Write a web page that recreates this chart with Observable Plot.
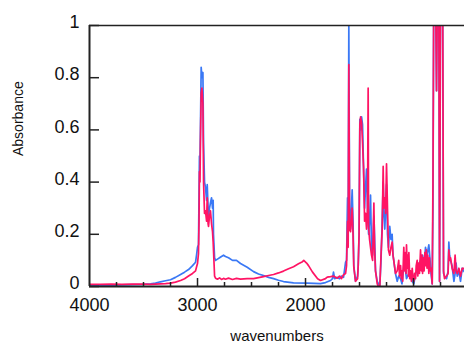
<!DOCTYPE html>
<html>
<head>
<meta charset="utf-8">
<script src="https://cdn.jsdelivr.net/npm/d3@7"></script>
<script src="https://cdn.jsdelivr.net/npm/@observablehq/plot@0.6"></script>
<style>
  html, body { margin: 0; padding: 0; background: #fff; }
  #chart svg { display: block; }
</style>
</head>
<body>
<div id="chart"></div>
<script>
// [wavenumber (cm-1), absorbance]
const blueSpectrum = [
  [4000,0.005],[3900,0.006],[3800,0.005],[3700,0.006],[3600,0.007],[3500,0.008],
  [3435,0.010],[3389,0.013],[3343,0.018],[3296,0.022],[3250,0.026],[3204,0.035],
  [3157,0.046],[3120,0.055],[3083,0.065],[3046,0.080],[3018,0.093],[3009,0.120],
  [3000,0.150],[2991,0.160],[2986,0.350],[2982,0.500],[2977,0.470],[2973,0.600],
  [2966,0.840],[2959,0.800],[2950,0.820],[2944,0.550],[2935,0.400],[2926,0.380],
  [2916,0.330],[2910,0.390],[2902,0.300],[2898,0.270],[2889,0.300],[2880,0.320],
  [2870,0.340],[2861,0.300],[2855,0.330],[2852,0.200],[2842,0.110],[2833,0.100],
  [2815,0.105],[2796,0.110],[2778,0.115],[2759,0.120],[2741,0.115],[2713,0.110],
  [2676,0.100],[2639,0.100],[2602,0.088],[2540,0.074],[2481,0.057],[2435,0.048],
  [2389,0.042],[2342,0.035],[2296,0.030],[2250,0.024],[2204,0.019],[2111,0.014],
  [1981,0.013],[1861,0.011],[1815,0.015],[1768,0.023],[1750,0.030],[1741,0.055],
  [1731,0.030],[1706,0.035],[1685,0.030],[1667,0.040],[1648,0.035],[1629,0.093],
  [1620,0.100],[1611,0.340],[1605,0.200],[1599,1.000],[1592,0.300],[1583,0.220],
  [1568,0.370],[1560,0.250],[1553,0.080],[1537,0.020],[1518,0.040],[1512,0.080],
  [1504,0.200],[1497,0.640],[1490,0.600],[1481,0.650],[1472,0.620],[1463,0.460],
  [1453,0.300],[1444,0.380],[1435,0.450],[1426,0.300],[1416,0.200],[1407,0.250],
  [1398,0.350],[1389,0.150],[1379,0.120],[1367,0.270],[1361,0.200],[1352,0.060],
  [1336,0.020],[1324,0.010],[1312,0.005],[1301,0.100],[1290,0.250],[1281,0.400],
  [1275,0.280],[1266,0.220],[1258,0.300],[1250,0.390],[1241,0.200],[1232,0.150],
  [1220,0.230],[1209,0.180],[1198,0.200],[1190,0.120],[1183,0.100],[1167,0.050],
  [1151,0.020],[1137,0.040],[1120,0.030],[1107,0.010],[1090,0.080],[1074,0.060],
  [1065,0.030],[1043,0.050],[1028,0.040],[1012,0.020],[997,0.010],[981,0.050],
  [966,0.060],[953,0.080],[935,0.100],[916,0.120],[902,0.080],[889,0.150],
  [875,0.120],[858,0.160],[847,0.100],[838,0.050],[827,0.010],[820,0.300],
  [812,1.200],[797,1.200],[787,0.750],[778,1.200],[766,1.200],[759,0.020],
  [749,1.200],[736,1.200],[731,1.200],[722,0.050],[713,0.040],[694,0.030],
  [680,0.060],[673,0.170],[666,0.120],[657,0.100],[643,0.080],[626,0.020],
  [615,0.050],[606,0.090],[595,0.040],[580,0.060],[565,0.020],[549,0.070],
  [537,0.060],[518,0.050]
];
const redSpectrum = [
  [4000,0.008],[3900,0.008],[3800,0.009],[3700,0.008],[3600,0.009],[3500,0.009],
  [3435,0.008],[3389,0.009],[3343,0.010],[3296,0.011],[3250,0.013],[3204,0.017],
  [3157,0.023],[3120,0.030],[3083,0.040],[3046,0.050],[3018,0.060],[3009,0.075],
  [3000,0.088],[2991,0.126],[2986,0.250],[2982,0.440],[2977,0.400],[2973,0.550],
  [2966,0.740],[2959,0.760],[2950,0.700],[2944,0.400],[2935,0.280],[2926,0.290],
  [2916,0.250],[2910,0.340],[2902,0.240],[2898,0.230],[2889,0.270],[2880,0.290],
  [2870,0.240],[2861,0.210],[2855,0.170],[2852,0.140],[2842,0.040],[2833,0.032],
  [2815,0.028],[2796,0.033],[2778,0.027],[2759,0.031],[2741,0.028],[2713,0.032],
  [2676,0.027],[2639,0.031],[2602,0.028],[2540,0.030],[2481,0.030],[2435,0.034],
  [2389,0.038],[2342,0.042],[2296,0.046],[2250,0.052],[2204,0.059],[2157,0.068],
  [2111,0.076],[2065,0.087],[2028,0.095],[2016,0.100],[1990,0.090],[1972,0.080],
  [1935,0.055],[1888,0.030],[1861,0.023],[1815,0.030],[1799,0.036],[1768,0.038],
  [1741,0.040],[1706,0.032],[1685,0.040],[1667,0.030],[1648,0.045],[1629,0.050],
  [1620,0.080],[1611,0.250],[1605,0.150],[1599,0.850],[1592,0.220],[1583,0.210],
  [1568,0.300],[1560,0.200],[1553,0.074],[1537,0.020],[1518,0.030],[1512,0.080],
  [1504,0.200],[1497,0.620],[1490,0.650],[1481,0.630],[1472,0.550],[1463,0.460],
  [1453,0.250],[1444,0.280],[1435,0.220],[1426,0.300],[1420,0.760],[1416,0.230],
  [1407,0.180],[1398,0.150],[1389,0.120],[1379,0.100],[1367,0.320],[1361,0.150],
  [1352,0.060],[1336,0.010],[1324,0.000],[1312,0.000],[1301,0.120],[1290,0.220],
  [1281,0.460],[1275,0.300],[1266,0.340],[1258,0.280],[1250,0.470],[1241,0.300],
  [1232,0.140],[1220,0.120],[1209,0.150],[1198,0.170],[1190,0.120],[1183,0.100],
  [1167,0.050],[1151,0.060],[1137,0.100],[1130,0.040],[1120,0.080],[1113,0.030],
  [1107,0.060],[1100,0.020],[1090,0.150],[1083,0.060],[1074,0.130],[1069,0.050],
  [1065,0.160],[1058,0.070],[1052,0.120],[1047,0.040],[1043,0.130],[1035,0.030],
  [1028,0.060],[1020,0.020],[1012,0.070],[1005,0.030],[997,0.020],[990,0.050],
  [981,0.030],[975,0.080],[966,0.100],[960,0.040],[953,0.090],[945,0.050],
  [935,0.140],[928,0.060],[922,0.120],[916,0.050],[909,0.110],[902,0.060],
  [895,0.130],[889,0.080],[882,0.140],[875,0.070],[868,0.120],[858,0.050],
  [852,0.110],[847,0.060],[838,0.070],
  [827,0.010],[820,0.400],[812,1.200],[797,1.200],[787,0.750],[778,1.200],
  [766,1.200],[759,0.020],[749,1.200],[736,1.200],[731,1.200],[722,0.060],
  [713,0.030],[694,0.040],[680,0.050],[673,0.140],[666,0.100],[657,0.110],
  [643,0.070],[626,0.050],[615,0.120],[606,0.060],[595,0.050],[580,0.070],
  [565,0.040],[549,0.070],[537,0.070],[518,0.060]
];
const xLabelTicks = [4000, 3000, 2000, 1000];
const xMinorTicks = [3750, 3500, 3250, 2750, 2500, 2250, 1750, 1500, 1250, 750, 500];
const xMajorTicks = [3000, 2000, 1000];
const yTicks = [0, 0.2, 0.4, 0.6, 0.8, 1];
const yTickLabels = ["0", "0.2", "0.4", "0.6", "0.8", "1"];
const xTitle = "wavenumbers";
const yTitle = "Absorbance";

const blueColor = "#3a78f5";
const redColor = "#ff1464";
const axisColor = "#222";

const chart = Plot.plot({
  width: 464,
  height: 347,
  marginLeft: 89,
  marginRight: 0,
  marginTop: 25,
  marginBottom: 61,
  style: {fontFamily: "'Liberation Sans', Arial, sans-serif", fontSize: "18px", background: "#fff", color: "#111"},
  x: {domain: [4000, 528], axis: null},
  y: {domain: [0, 1], axis: null},
  marks: [
    Plot.line(blueSpectrum, {x: d => d[0], y: d => d[1], stroke: blueColor, strokeWidth: 1.7, clip: true}),
    Plot.line(redSpectrum, {x: d => d[0], y: d => d[1], stroke: redColor, strokeWidth: 1.7, clip: true}),
    Plot.ruleY([1], {stroke: axisColor, strokeWidth: 1.5}),
    Plot.ruleY([0], {stroke: axisColor, strokeWidth: 2}),
    Plot.ruleX([4000], {stroke: axisColor, strokeWidth: 2}),
    Plot.axisY({ticks: yTicks, tickSize: -10, tickFormat: () => "", stroke: axisColor, strokeWidth: 1.5}),
    Plot.axisY({ticks: yTicks, tickSize: 0, tickPadding: 10, dy: -3, tickFormat: (d, i) => yTickLabels[i], fontSize: 18, fill: "#111"}),
    Plot.axisX({ticks: xMajorTicks, tickSize: -8, tickFormat: () => "", stroke: axisColor, strokeWidth: 1.5}),
    Plot.axisX({ticks: xMinorTicks, tickSize: -4, tickFormat: () => "", stroke: axisColor, strokeWidth: 1.5}),
    Plot.axisX({ticks: xLabelTicks, tickSize: 0, tickPadding: 12, tickFormat: d => String(d), fontSize: 18, fill: "#111"}),
    Plot.text([yTitle], {frameAnchor: "left", dx: -71, rotate: -90, fontSize: 14, fill: "#111"}),
    Plot.text([xTitle], {frameAnchor: "bottom", dy: 54, fontSize: 15, fill: "#111"})
  ]
});
document.getElementById("chart").appendChild(chart);
</script>
</body>
</html>
